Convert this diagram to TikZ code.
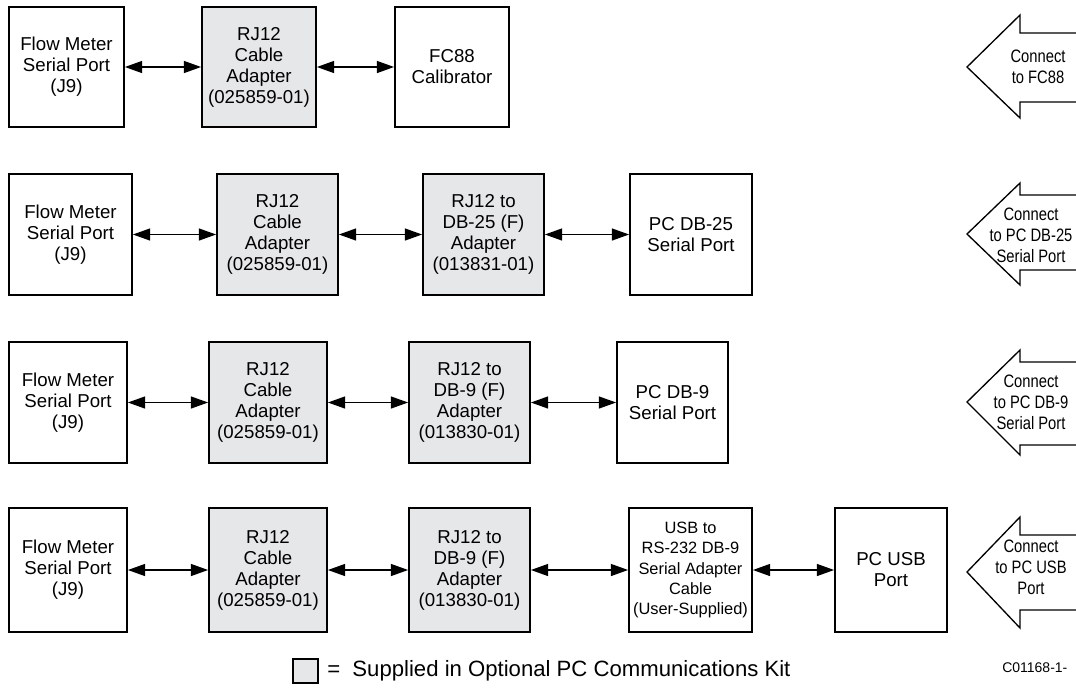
\documentclass[tikz,border=0pt]{standalone}
\usepackage{fontspec}
\setmainfont{Liberation Sans}
\newfontfamily\narrowfont[FakeStretch=0.82]{Liberation Sans}
\usetikzlibrary{arrows.meta}
\definecolor{kitgray}{RGB}{230,231,232}
\begin{document}
\begin{tikzpicture}[x=0.75pt,y=-0.75pt,
  blk/.style={draw, line width=1.3pt, align=center, inner sep=0pt, font=\fontsize{14}{15.75}\selectfont},
  kit/.style={blk, fill=kitgray},
  link/.style={line width=1.1pt, {Triangle[length=13pt,width=9pt]}-{Triangle[length=13pt,width=9pt]}},
  bigarrow/.style={draw, line width=1pt, fill=white, line join=miter},
  tag/.style={align=center, inner sep=0pt, font=\narrowfont\fontsize{13.5}{15.75}\selectfont}
]
\clip (0,0) rectangle (1076,687);
\fill[white] (0,0) rectangle (1076,687);

% Row 1
\node[blk, minimum width=86.25pt, minimum height=90pt] (f1) at (66.5,67) {Flow Meter\\Serial Port\\(J9)};
\node[kit, minimum width=85.5pt, minimum height=90pt] (r1) at (259,67) {RJ12\\Cable\\Adapter\\(025859-01)};
\node[blk, minimum width=85.5pt, minimum height=90pt] (c1) at (452,67) {FC88\\Calibrator};
\draw[link] (f1) -- (r1);
\draw[link] (r1) -- (c1);

% Row 2
\node[blk, minimum width=92.25pt, minimum height=90.75pt] (f2) at (70.5,234.5) {Flow Meter\\Serial Port\\(J9)};
\node[kit, minimum width=90.75pt, minimum height=90.75pt] (r2) at (277.5,234.5) {RJ12\\Cable\\Adapter\\(025859-01)};
\node[kit, minimum width=90.75pt, minimum height=90.75pt] (d2) at (483.5,234.5) {RJ12 to\\DB-25 (F)\\Adapter\\(013831-01)};
\node[blk, minimum width=91.5pt, minimum height=90.75pt] (p2) at (691,234.5) {PC DB-25\\Serial Port};
\draw[link] (f2) -- (r2);
\draw[link] (r2) -- (d2);
\draw[link] (d2) -- (p2);

% Row 3
\node[blk, minimum width=88.5pt, minimum height=90.75pt] (f3) at (68,402.5) {Flow Meter\\Serial Port\\(J9)};
\node[kit, minimum width=88.5pt, minimum height=90.75pt] (r3) at (268,402.5) {RJ12\\Cable\\Adapter\\(025859-01)};
\node[kit, minimum width=90.75pt, minimum height=90.75pt] (d3) at (469.5,402.5) {RJ12 to\\DB-9 (F)\\Adapter\\(013830-01)};
\node[blk, minimum width=83.25pt, minimum height=90.75pt] (p3) at (672.5,402.5) {PC DB-9\\Serial Port};
\draw[link] (f3) -- (r3);
\draw[link] (r3) -- (d3);
\draw[link] (d3) -- (p3);

% Row 4
\node[blk, minimum width=88.5pt, minimum height=93pt] (f4) at (68,570) {Flow Meter\\Serial Port\\(J9)};
\node[kit, minimum width=88.5pt, minimum height=93pt] (r4) at (268,570) {RJ12\\Cable\\Adapter\\(025859-01)};
\node[kit, minimum width=90.75pt, minimum height=93pt] (d4) at (469.5,570) {RJ12 to\\DB-9 (F)\\Adapter\\(013830-01)};
\node[blk, minimum width=92.25pt, minimum height=93pt, font=\fontsize{12.3}{15.2}\selectfont] (u4) at (690.5,570) {USB to\\RS-232 DB-9\\Serial Adapter\\Cable\\(User-Supplied)};
\node[blk, minimum width=84pt, minimum height=93pt] (pc4) at (891,570) {PC USB\\Port};
\draw[link] (f4) -- (r4);
\draw[link] (r4) -- (d4);
\draw[link] (d4) -- (u4);
\draw[link] (u4) -- (pc4);

% Right-hand "connect" arrows
\draw[bigarrow] (1082,33) -- (1020,33) -- (1020,15) -- (967,67) -- (1020,118) -- (1020,102) -- (1082,102);
\node[tag] (t1) at (1038,67) {Connect\\to FC88};
\draw[bigarrow] (1082,195) -- (1020,195) -- (1020,183) -- (967,234) -- (1020,285) -- (1020,270) -- (1082,270);
\node[tag] (t2) at (1031,235) {Connect\\to PC DB-25\\Serial Port};
\draw[bigarrow] (1082,362) -- (1020,362) -- (1020,350) -- (967,402) -- (1020,455) -- (1020,445) -- (1082,445);
\node[tag] (t3) at (1031,402) {Connect\\to PC DB-9\\Serial Port};
\draw[bigarrow] (1082,535) -- (1020,535) -- (1020,517) -- (967,572) -- (1020,628) -- (1020,610) -- (1082,610);
\node[tag] (t4) at (1031,567) {Connect\\to PC USB\\Port};

% Legend
\node[draw, fill=kitgray, line width=0.8pt, minimum width=18.75pt, minimum height=18pt, inner sep=0pt] (leg) at (305.5,671) {};
\node[anchor=west, font=\fontsize{16.6}{18}\selectfont, inner sep=0pt] (legtxt) at (327,671) {=\ \ Supplied in Optional PC Communications Kit};
\node[anchor=west, font=\fontsize{10.5}{12}\selectfont, inner sep=0pt] (code) at (1002,668) {C01168-1-};
\end{tikzpicture}
\end{document}
